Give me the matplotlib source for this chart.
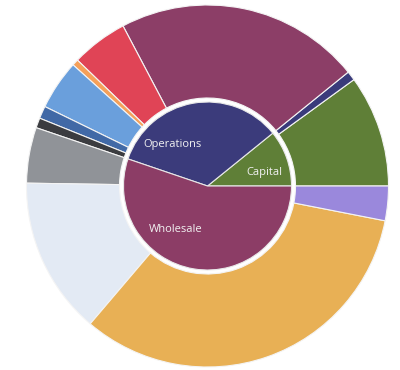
import matplotlib
matplotlib.use("Agg")
import matplotlib.pyplot as plt

# Top-level groups (inner ring)
groups = ["Capital", "Operations", "Wholesale"]
group_colors = ["#5f7f37", "#3b3b7b", "#8c3d66"]

# Sub-segments per group (outer ring), shares of the total in %
capital_values = [10.0, 0.83]
operations_values = [21.9, 5.03, 0.57, 4.44, 1.12, 0.89]
wholesale_values = [4.97, 14.03, 33.14, 3.08]

capital_colors = ["#5f7f37", "#3a3b7b"]
operations_colors = ["#8c3e67", "#e04456", "#f5a05a", "#6a9fdc", "#4169a6", "#3b3c40"]
wholesale_colors = ["#909398", "#e3eaf4", "#e8b055", "#9a88dc"]

outer_values = capital_values + operations_values + wholesale_values
outer_colors = capital_colors + operations_colors + wholesale_colors
group_values = [sum(capital_values), sum(operations_values), sum(wholesale_values)]

W, H = 400, 370
fig = plt.figure(figsize=(W / 100, H / 100), dpi=100)
ax = fig.add_axes([0, 0, 1, 1])

cx, cy = 207.5, 184.0
R_OUT, R_RING_IN, R_IN = 181, 88, 84

ax.pie(outer_values, colors=outer_colors, radius=R_OUT, startangle=0,
       counterclock=True, center=(0, 0),
       wedgeprops=dict(width=R_OUT - R_RING_IN, edgecolor="#f4f4f4", linewidth=0.8))
ax.pie(group_values, colors=group_colors, radius=R_IN, startangle=0,
       counterclock=True, center=(0, 0),
       wedgeprops=dict(edgecolor="#e8e8e8", linewidth=0.8))

# Group labels inside the inner pie (offsets from the centre, in pixels)
label_offsets = {"Capital": (57, 13), "Operations": (-35, 41), "Wholesale": (-32, -43)}
for name in groups:
    dx, dy = label_offsets[name]
    ax.text(dx, dy, name, ha="center", va="center", color="#f2f2f2",
            fontsize=8, family=["Open Sans", "DejaVu Sans"])

ax.set_xlim(-cx, W - cx)
ax.set_ylim(-cy, H - cy)
ax.set_aspect("equal")
ax.axis("off")

fig.savefig("out.png", dpi=100, facecolor="white")
